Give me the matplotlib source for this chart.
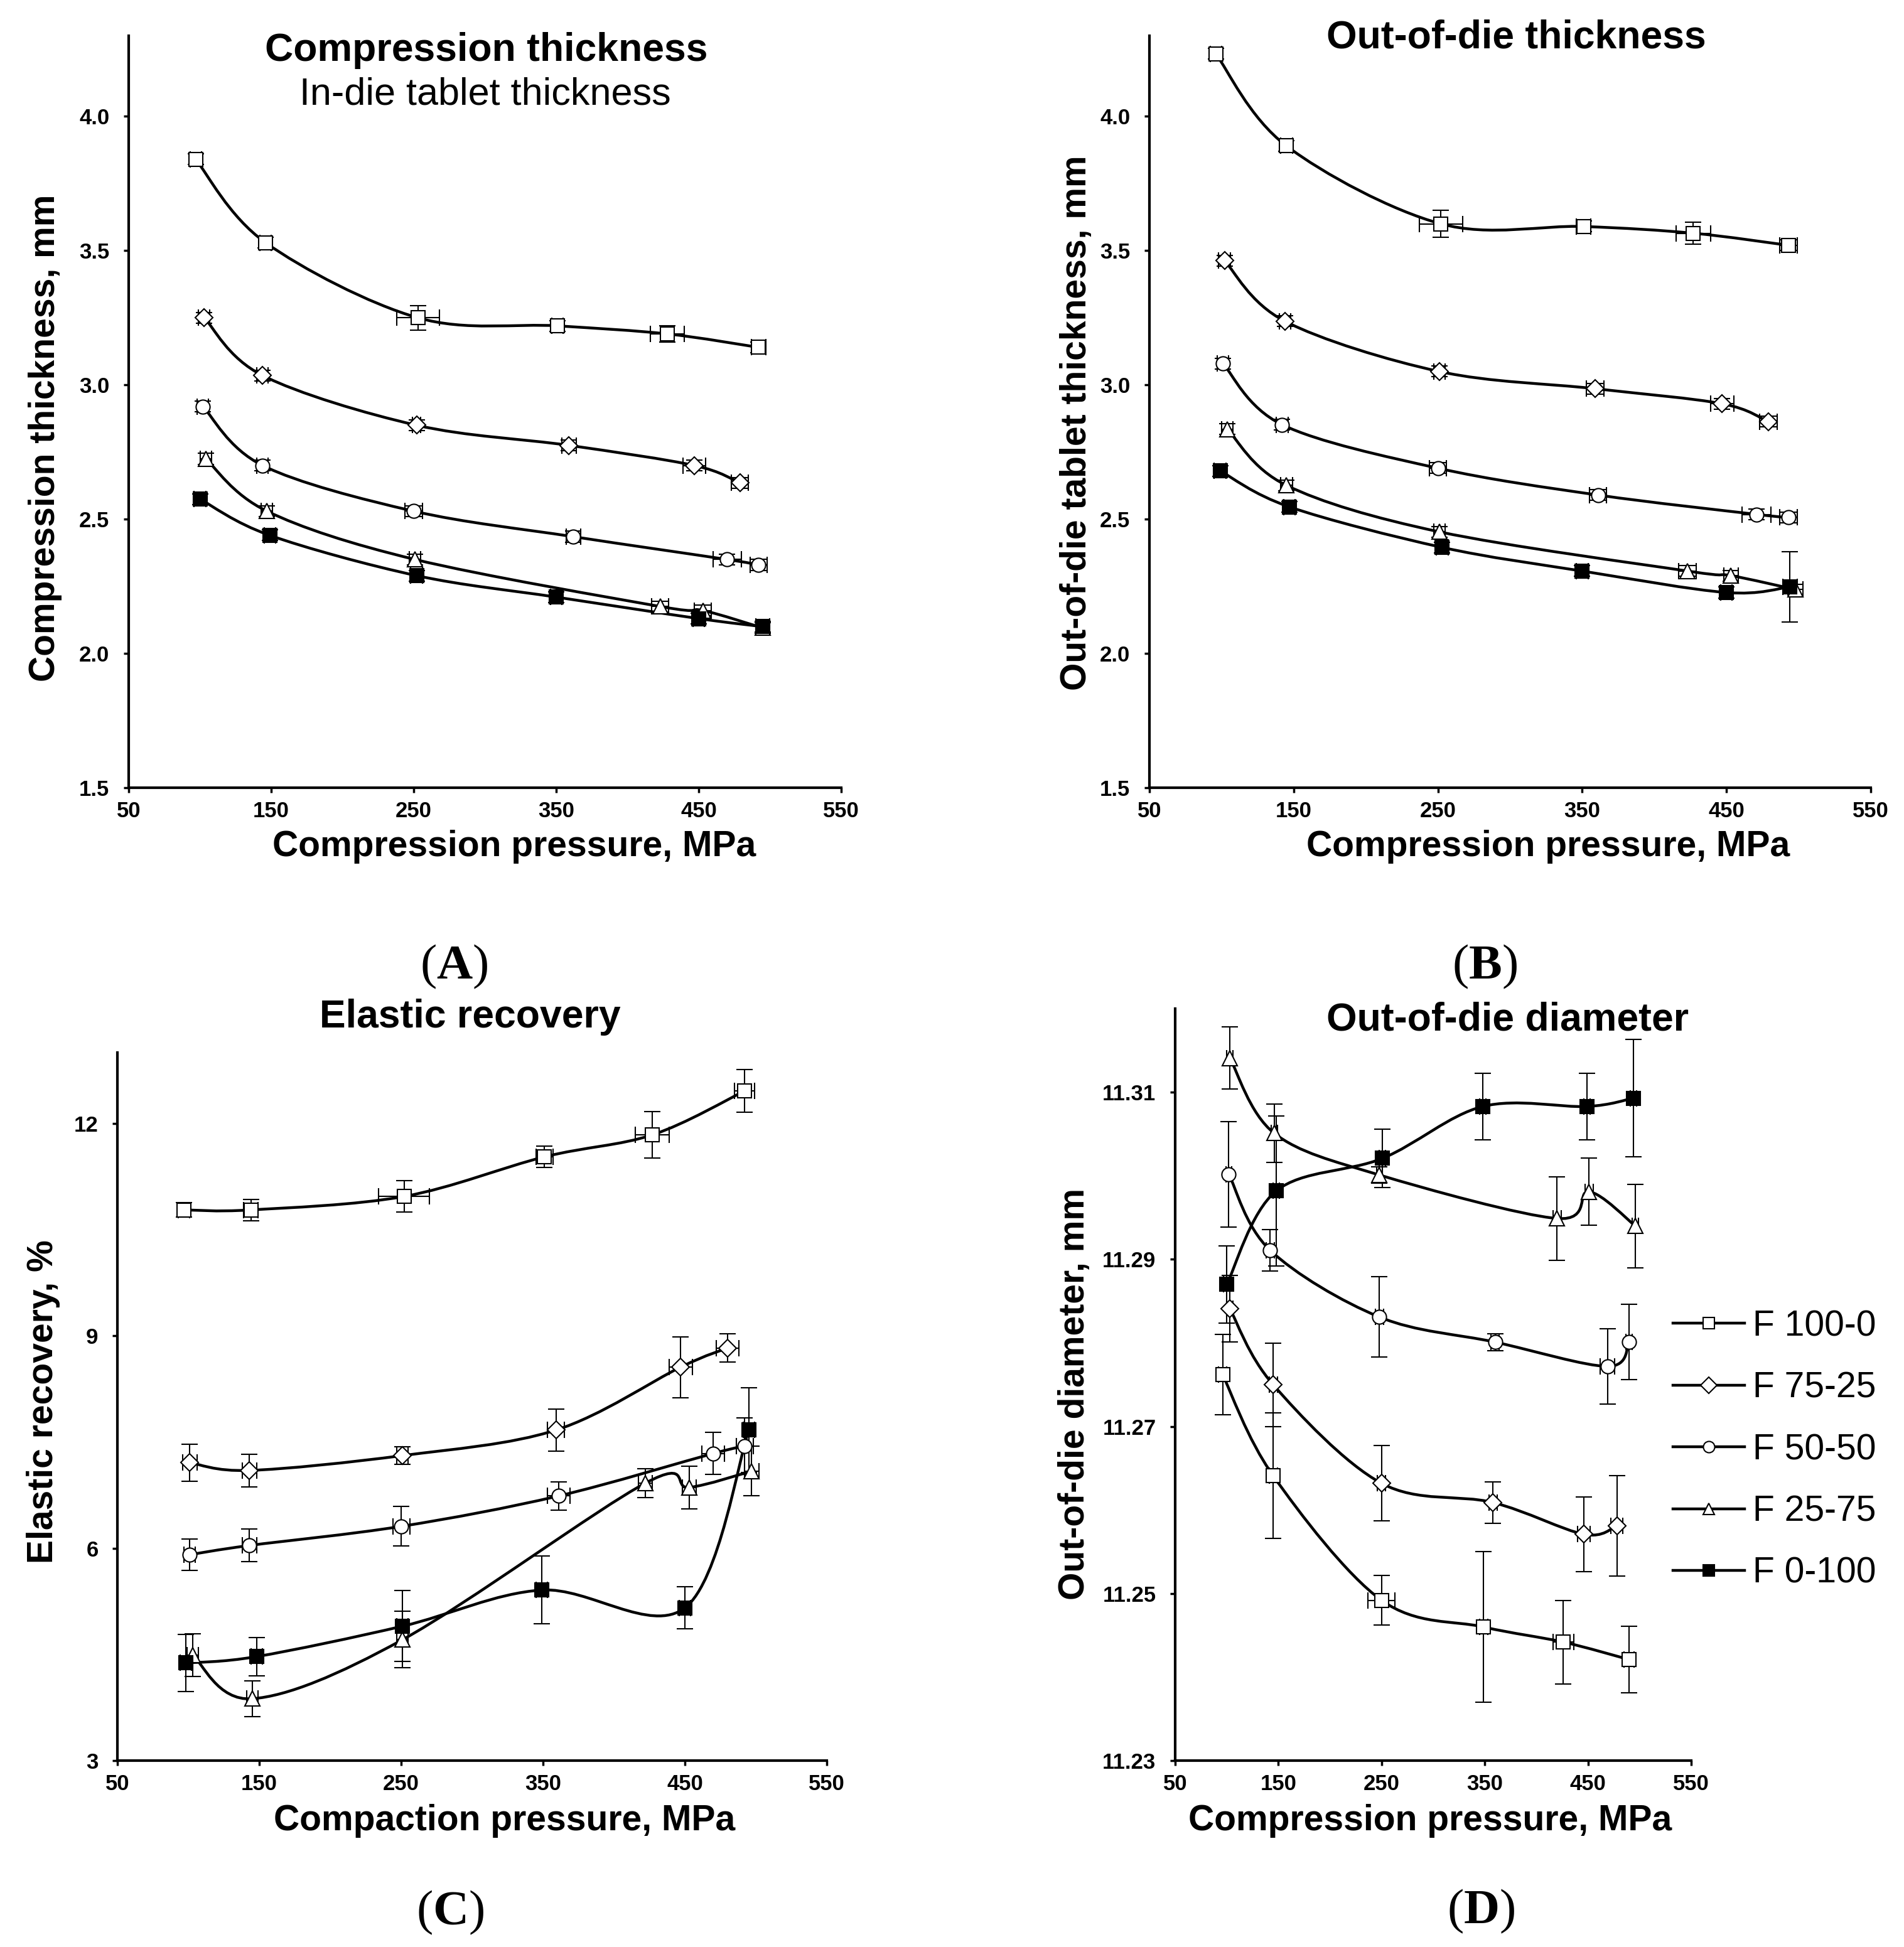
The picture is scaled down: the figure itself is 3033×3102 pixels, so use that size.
import matplotlib
matplotlib.use('Agg')
import matplotlib.pyplot as plt
from matplotlib.path import Path
from matplotlib.patches import PathPatch
from matplotlib.lines import Line2D
from matplotlib.ticker import FormatStrFormatter

plt.rcParams['font.family'] = ['Liberation Sans', 'DejaVu Sans']
plt.rcParams['mathtext.fontset'] = 'custom'
plt.rcParams['mathtext.rm'] = 'Liberation Serif'
plt.rcParams['mathtext.bf'] = 'Liberation Serif:bold'

series = ['F 100-0', 'F 75-25', 'F 50-50', 'F 25-75', 'F 0-100']
markers = ['s', 'D', 'o', '^', 's']
faces = ['white', 'white', 'white', 'white', 'black']
msizes = [16, 14, 16, 17, 16]

# (A) compression (in-die) thickness, mm
a_p = [[97, 146, 253, 351, 428, 492],
       [103, 144, 252, 359, 447, 479],
       [102, 144, 250, 362, 470, 492],
       [104, 147, 251, 423, 453, 495],
       [100, 149, 252, 350, 450, 495]]
a_y = [[3.84, 3.53, 3.25, 3.22, 3.19, 3.14],
       [3.25, 3.035, 2.85, 2.775, 2.70, 2.635],
       [2.92, 2.70, 2.53, 2.435, 2.35, 2.33],
       [2.725, 2.53, 2.35, 2.175, 2.16, 2.095],
       [2.575, 2.44, 2.29, 2.21, 2.13, 2.10]]
a_xe = [[4, 4, 15, 4, 12, 5],
        [4, 4, 3, 5, 8, 6],
        [4, 4, 6, 5, 10, 6],
        [4, 4, 4, 6, 6, 5],
        [4, 4, 4, 4, 4, 5]]
a_ye = [[0.02, 0.02, 0.045, 0.02, 0.03, 0.02],
        [0.02, 0.02, 0.02, 0.02, 0.02, 0.02],
        [0.02, 0.02, 0.02, 0.02, 0.02, 0.02],
        [0.02, 0.02, 0.02, 0.02, 0.02, 0.02],
        [0.02, 0.02, 0.02, 0.02, 0.02, 0.02]]

# (B) out-of-die thickness, mm
b_p = [[96, 145, 252, 351, 427, 493],
       [102, 144, 251, 359, 447, 479],
       [101, 142, 250, 361, 471, 493],
       [104, 145, 251, 423, 453, 498],
       [99, 147, 253, 350, 450, 494]]
b_y = [[4.233, 3.89, 3.60, 3.59, 3.565, 3.52],
       [3.463, 3.237, 3.05, 2.986, 2.93, 2.863],
       [3.079, 2.852, 2.69, 2.59, 2.518, 2.507],
       [2.835, 2.626, 2.453, 2.307, 2.29, 2.238],
       [2.68, 2.546, 2.395, 2.307, 2.227, 2.248]]
b_xe = [[4, 4, 15, 5, 12, 6],
        [4, 4, 4, 6, 8, 6],
        [4, 4, 6, 6, 10, 6],
        [4, 4, 4, 6, 5, 5],
        [4, 4, 4, 4, 4, 5]]
b_ye = [[0.02, 0.02, 0.05, 0.02, 0.04, 0.02],
        [0.02, 0.02, 0.02, 0.02, 0.02, 0.02],
        [0.02, 0.02, 0.02, 0.02, 0.02, 0.02],
        [0.02, 0.02, 0.02, 0.02, 0.02, 0.02],
        [0.02, 0.02, 0.02, 0.02, 0.02, 0.13]]

# (C) elastic recovery, %
c_p = [[97, 144, 252, 351, 427, 492],
       [101, 143, 251, 359, 447, 480],
       [101, 143, 250, 361, 470, 492],
       [103, 145, 251, 422, 453, 497],
       [98, 148, 251, 349, 450, 495]]
c_y = [[10.78, 10.78, 10.97, 11.53, 11.84, 12.46],
       [7.21, 7.10, 7.31, 7.67, 8.56, 8.83],
       [5.91, 6.04, 6.31, 6.74, 7.34, 7.44],
       [4.49, 3.875, 4.71, 6.92, 6.86, 7.09],
       [4.38, 4.47, 4.90, 5.41, 5.16, 7.67]]
c_xe = [[4, 5, 18, 6, 12, 7],
        [5, 5, 4, 6, 8, 8],
        [4, 5, 6, 8, 8, 6],
        [4, 4, 4, 5, 5, 5],
        [4, 4, 4, 4, 4, 4]]
c_ye = [[0.1, 0.15, 0.22, 0.15, 0.33, 0.3],
        [0.26, 0.23, 0.12, 0.3, 0.43, 0.2],
        [0.22, 0.23, 0.28, 0.2, 0.3, 0.4],
        [0.3, 0.25, 0.4, 0.2, 0.3, 0.35],
        [0.4, 0.27, 0.5, 0.48, 0.3, 0.6]]

# (D) out-of-die diameter, mm
d_p = [[96, 145, 250, 349, 426, 490],
       [103, 145, 250, 358, 446, 478],
       [102, 142, 248, 360, 469, 490],
       [103, 146, 248, 420, 451, 496],
       [100, 148, 251, 348, 449, 494]]
d_y = [[11.2762, 11.2641, 11.2492, 11.2460, 11.2442, 11.2421],
       [11.2841, 11.2750, 11.2632, 11.2609, 11.2571, 11.2581],
       [11.3002, 11.2911, 11.2831, 11.2801, 11.2772, 11.2801],
       [11.3141, 11.3051, 11.3001, 11.2949, 11.2981, 11.2940],
       [11.2870, 11.2982, 11.3021, 11.3083, 11.3083, 11.3093]]
d_xe = [[4, 4, 13, 4, 10, 5],
        [3, 4, 4, 4, 6, 6],
        [3, 4, 4, 4, 7, 3],
        [3, 3, 3, 4, 4, 3],
        [3, 3, 3, 3, 3, 3]]
d_ye = [[0.0048, 0.0075, 0.003, 0.009, 0.005, 0.004],
        [0.004, 0.005, 0.0045, 0.0025, 0.0045, 0.006],
        [0.0063, 0.0025, 0.0048, 0.001, 0.0045, 0.0045],
        [0.0037, 0.0035, 0.001, 0.005, 0.004, 0.005],
        [0.0046, 0.009, 0.0035, 0.004, 0.004, 0.007]]


def smooth_path(x, y):
    # Excel-like smoothed line: cubic Bezier through the points
    pts = list(zip(x, y))
    n = len(pts)
    verts = [pts[0]]
    codes = [Path.MOVETO]
    for i in range(n - 1):
        p0 = pts[max(i - 1, 0)]
        p1 = pts[i]
        p2 = pts[i + 1]
        p3 = pts[min(i + 2, n - 1)]
        c1 = (p1[0] + (p2[0] - p0[0]) / 6, p1[1] + (p2[1] - p0[1]) / 6)
        c2 = (p2[0] - (p3[0] - p1[0]) / 6, p2[1] - (p3[1] - p1[1]) / 6)
        verts += [c1, c2, p2]
        codes += [Path.CURVE4] * 3
    return Path(verts, codes)


def draw(ax, P, Y, XE, YE):
    for i in range(len(series)):
        ax.add_patch(PathPatch(smooth_path(P[i], Y[i]), fill=False, lw=3.2,
                               ec='black', zorder=2))
        ax.errorbar(P[i], Y[i], xerr=XE[i], yerr=YE[i], fmt=markers[i],
                    ms=msizes[i], mfc=faces[i], mec='black', mew=1.5,
                    ecolor='black', elinewidth=1.5, capsize=9.5, capthick=1.5,
                    zorder=3)


def style(ax, ylim, yticks, fmt):
    ax.set_xlim(50, 550)
    ax.set_xticks(range(50, 551, 100))
    ax.set_ylim(*ylim)
    ax.set_yticks(yticks)
    ax.yaxis.set_major_formatter(FormatStrFormatter(fmt))
    ax.spines[['top', 'right']].set_visible(False)
    ax.spines[['left', 'bottom']].set_linewidth(3)
    ax.tick_params(direction='out', length=6, width=2.5, labelsize=25)
    ax.tick_params(axis='x', pad=9)
    ax.tick_params(axis='y', pad=16)
    for lab in ax.get_xticklabels() + ax.get_yticklabels():
        lab.set_fontweight('bold')


fig = plt.figure(figsize=(30.33, 31.02), dpi=100)
ax_a = fig.add_axes([0.0676, 0.5954, 0.3742, 0.3862])
ax_b = fig.add_axes([0.6037, 0.5954, 0.3788, 0.3862])
ax_c = fig.add_axes([0.0617, 0.0957, 0.3726, 0.3636])
ax_d = fig.add_axes([0.6172, 0.0957, 0.2710, 0.3862])

draw(ax_a, a_p, a_y, a_xe, a_ye)
draw(ax_b, b_p, b_y, b_xe, b_ye)
draw(ax_c, c_p, c_y, c_xe, c_ye)
draw(ax_d, d_p, d_y, d_xe, d_ye)

style(ax_a, (1.5, 4.3), [1.5, 2.0, 2.5, 3.0, 3.5, 4.0], '%.1f')
style(ax_b, (1.5, 4.3), [1.5, 2.0, 2.5, 3.0, 3.5, 4.0], '%.1f')
style(ax_c, (3, 13), [3, 6, 9, 12], '%d')
style(ax_d, (11.23, 11.32), [11.23, 11.25, 11.27, 11.29, 11.31], '%.2f')

# titles
fig.text(0.2555, 0.9687, 'Compression thickness', ha='center', va='baseline',
         fontsize=45, fontweight='bold')
fig.text(0.2549, 0.9462, 'In-die tablet thickness', ha='center', va='baseline',
         fontsize=44)
fig.text(0.7965, 0.9752, 'Out-of-die thickness', ha='center', va='baseline',
         fontsize=45, fontweight='bold')
fig.text(0.2470, 0.4723, 'Elastic recovery', ha='center', va='baseline',
         fontsize=45, fontweight='bold')
fig.text(0.7917, 0.4707, 'Out-of-die diameter', ha='center', va='baseline',
         fontsize=45, fontweight='bold')

# axis labels
lab = dict(fontsize=41, fontweight='bold')
fig.text(0.0237, 0.7750, 'Compression thickness, mm', rotation=90,
         ha='center', va='center', **lab)
fig.text(0.5655, 0.7827, 'Out-of-die tablet thickness, mm', rotation=90,
         ha='center', va='center', **lab)
fig.text(0.0228, 0.2801, 'Elastic recovery, %', rotation=90,
         ha='center', va='center', **lab)
fig.text(0.5645, 0.2840, 'Out-of-die diameter, mm', rotation=90,
         ha='center', va='center', **lab)
fig.text(0.2700, 0.5603, 'Compression pressure, MPa', ha='center',
         va='baseline', **lab)
fig.text(0.8130, 0.5603, 'Compression pressure, MPa', ha='center',
         va='baseline', **lab)
fig.text(0.2650, 0.0600, 'Compaction pressure, MPa', ha='center',
         va='baseline', **lab)
fig.text(0.7510, 0.0600, 'Compression pressure, MPa', ha='center',
         va='baseline', **lab)

# panel letters
for x, y, letter in [(0.2385, 0.5035, 'A'), (0.7797, 0.5035, 'B'),
                     (0.2364, 0.0177, 'C'), (0.7778, 0.0184, 'D')]:
    fig.text(x, y, '($\\mathbf{%s}$)' % letter, ha='center', va='center',
             fontsize=57, fontfamily='Liberation Serif')

# legend
handles = [Line2D([], [], color='black', lw=3.2, marker=markers[i], ms=13,
                  mfc=faces[i], mec='black', mew=1.5)
           for i in range(len(series))]
ax_d.legend(handles, series, loc='center left', bbox_to_anchor=(0.8787, 0.2553),
            bbox_transform=fig.transFigure, frameon=False, fontsize=41,
            handlelength=2.0, handletextpad=0.23, labelspacing=0.78,
            borderpad=0, borderaxespad=0)

fig.savefig('out.png', dpi=100)
